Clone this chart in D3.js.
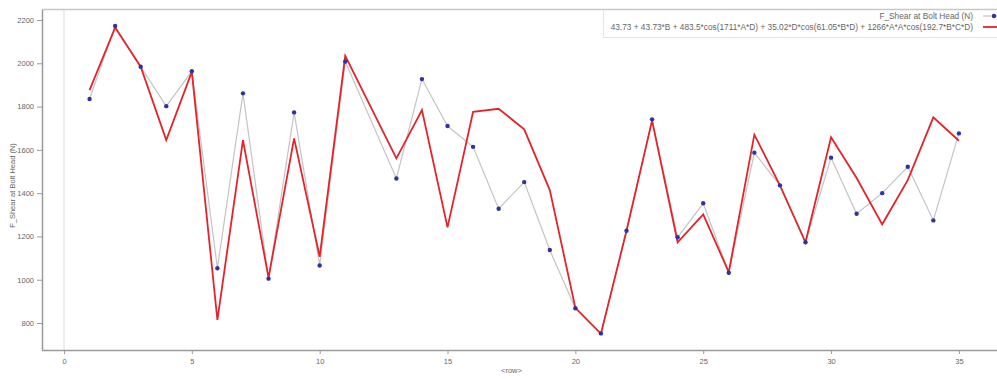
<!DOCTYPE html>
<html>
<head>
<meta charset="utf-8">
<script src="https://cdn.jsdelivr.net/npm/d3@7"></script>
<style>
  html, body { margin: 0; padding: 0; background: #fff; }
  svg { display: block; font-family: "Liberation Sans", "DejaVu Sans", sans-serif; }
</style>
</head>
<body>
<svg id="chart" width="997" height="379"></svg>
<script>
// Row index of each measurement (row 12 has no value)
const rows = [1,2,3,4,5,6,7,8,9,10,11,13,14,15,16,17,18,19,20,21,22,23,24,25,26,27,28,29,30,31,32,33,34,35];
// Measured F_Shear at Bolt Head (N)
const shear = [1835,2172,1984,1802,1963,1053,1861,1005,1773,1066,2008,1468,1927,1710,1614,1328,1451,1137,868,752,1226,1741,1196,1353,1032,1587,1436,1173,1564,1305,1400,1522,1274,1676];
// Fitted model evaluated at each row
const model = [1876,2165,1984,1645,1960,814,1645,1010,1653,1106,2034,1561,1784,1242,1776,1790,1695,1414,870,750,1226,1735,1173,1302,1035,1670,1436,1173,1658,1470,1256,1460,1750,1642];
const xTicks = [0,5,10,15,20,25,30,35];
const yTicks = [800,1000,1200,1400,1600,1800,2000,2200];
const seriesNames = ["F_Shear at Bolt Head (N)",
  "43.73 + 43.73*B + 483.5*cos(1711*A*D) + 35.02*D*cos(61.05*B*D) + 1266*A*A*cos(192.7*B*C*D)"];

const svg = d3.select("#chart");
const plot = {left: 42, top: 9, right: 997, bottom: 350};

const x = d3.scaleLinear().domain([-0.86, 36.49]).range([plot.left, plot.right]);
const y = d3.scaleLinear().domain([675.3, 2250.8]).range([plot.bottom, plot.top]);

const textColor = "#666";
const axisColor = "#9a9a9a";
const fontSize = 7.5;
const legendFont = 8.3;

// vertical reference line at x = 0
svg.append("line")
  .attr("x1", x(0)).attr("x2", x(0))
  .attr("y1", plot.top).attr("y2", plot.bottom)
  .attr("stroke", "#dcdcdc").attr("stroke-width", 1);

// axes
const xAxis = d3.axisBottom(x).tickValues(xTicks).tickFormat(d3.format("d"))
  .tickSize(4).tickSizeOuter(0).tickPadding(5);
const gx = svg.append("g").attr("transform", `translate(0,${plot.bottom})`).call(xAxis);
gx.select(".domain").attr("stroke", axisColor).attr("stroke-width", 1.5)
  .attr("d", `M${plot.left},0.5H${plot.right}`);
gx.selectAll(".tick line").attr("stroke", axisColor);
gx.selectAll(".tick text").attr("fill", textColor).attr("font-size", fontSize);

const yAxis = d3.axisLeft(y).tickValues(yTicks).tickFormat(d3.format("d"))
  .tickSize(5).tickSizeOuter(0).tickPadding(3);
const gy = svg.append("g").attr("transform", `translate(${plot.left},0)`).call(yAxis);
gy.select(".domain").attr("stroke", axisColor).attr("stroke-width", 1.5)
  .attr("d", `M0.5,${plot.top}V${plot.bottom}`);
gy.selectAll(".tick line").attr("stroke", axisColor);
gy.selectAll(".tick text").attr("fill", textColor).attr("font-size", fontSize);

// axis titles
svg.append("text")
  .attr("x", x(17.5)).attr("y", 373)
  .attr("text-anchor", "middle").attr("font-size", fontSize).attr("fill", textColor)
  .text("<row>");
svg.append("text")
  .attr("transform", `translate(15,${(plot.top + plot.bottom) / 2 + 6}) rotate(-90)`)
  .attr("text-anchor", "middle").attr("font-size", fontSize).attr("fill", textColor)
  .text(seriesNames[0]);

const data = rows.map((r, i) => ({row: r, shear: shear[i], model: model[i]}));

// measured series: gray line
svg.append("path")
  .datum(data)
  .attr("fill", "none").attr("stroke", "#c4c4c4").attr("stroke-width", 1.2)
  .attr("d", d3.line().x(d => x(d.row)).y(d => y(d.shear)));

// model series: red line
svg.append("path")
  .datum(data)
  .attr("fill", "none").attr("stroke", "#e3242b").attr("stroke-width", 1.8)
  .attr("d", d3.line().x(d => x(d.row)).y(d => y(d.model)));

// measured markers
svg.append("g").selectAll("circle")
  .data(data).join("circle")
  .attr("cx", d => x(d.row)).attr("cy", d => y(d.shear))
  .attr("r", 2.2).attr("fill", "#2e33a0");

// legend box and top frame
const legend = svg.append("g");
legend.append("rect")
  .attr("x", 603.5).attr("y", plot.top + 0.5).attr("width", 400).attr("height", 28)
  .attr("fill", "#fff").attr("stroke", "#e4e4e4");
legend.append("line")
  .attr("x1", plot.left).attr("x2", plot.right)
  .attr("y1", plot.top + 0.5).attr("y2", plot.top + 0.5)
  .attr("stroke", "#c8c8c8").attr("stroke-width", 1.5);
const legendRows = [
  {name: seriesNames[0], color: "#c4c4c4", width: 1.2, marker: true, y: 16},
  {name: seriesNames[1], color: "#e3242b", width: 1.8, marker: false, y: 27}
];
legendRows.forEach(l => {
  legend.append("text")
    .attr("x", 973).attr("y", l.y + 3)
    .attr("text-anchor", "end").attr("font-size", legendFont).attr("fill", textColor)
    .text(l.name);
  legend.append("line")
    .attr("x1", 983).attr("x2", 997).attr("y1", l.y).attr("y2", l.y)
    .attr("stroke", l.color).attr("stroke-width", l.width);
  if (l.marker) {
    legend.append("circle").attr("cx", 994).attr("cy", l.y).attr("r", 2.2).attr("fill", "#2e33a0");
  }
});
</script>
</body>
</html>
